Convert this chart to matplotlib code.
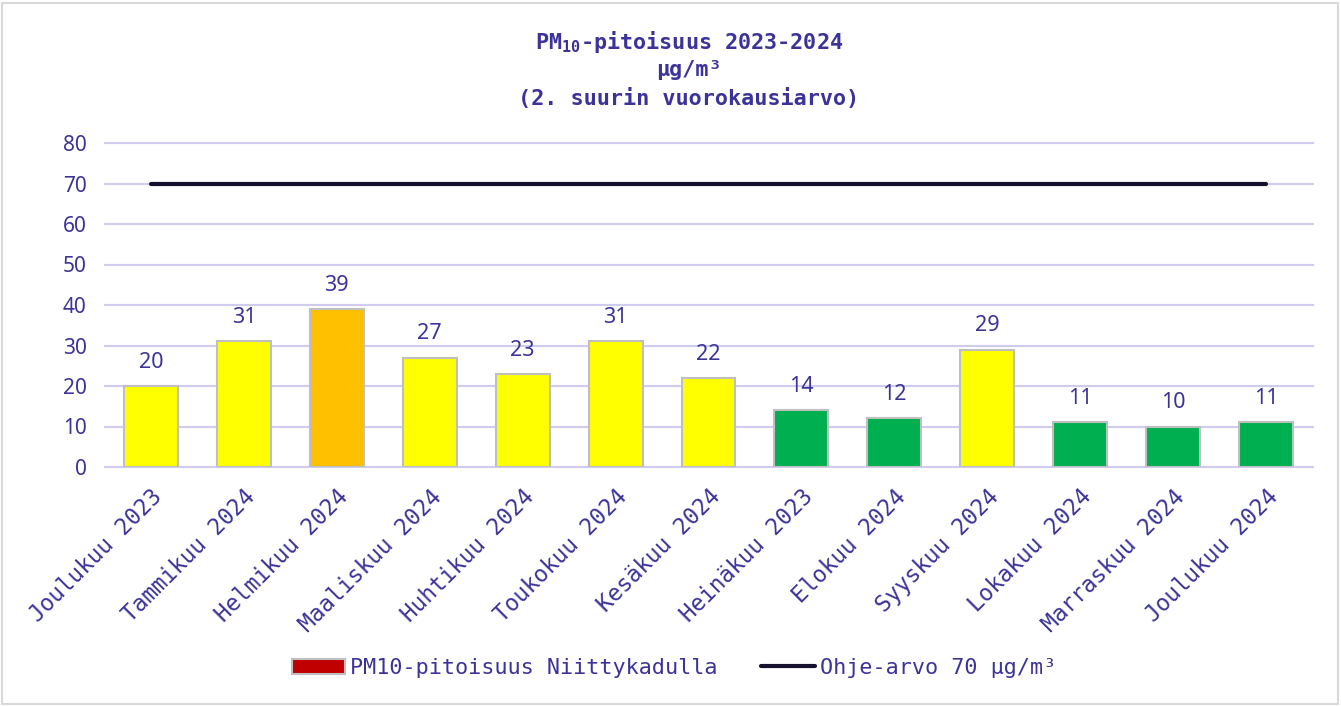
import matplotlib
matplotlib.use("Agg")
import matplotlib.pyplot as plt
from matplotlib.patches import Patch, Rectangle
from matplotlib.lines import Line2D

months = ["Joulukuu 2023", "Tammikuu 2024", "Helmikuu 2024", "Maaliskuu 2024",
          "Huhtikuu 2024", "Toukokuu 2024", "Kesäkuu 2024", "Heinäkuu 2023",
          "Elokuu 2024", "Syyskuu 2024", "Lokakuu 2024", "Marraskuu 2024",
          "Joulukuu 2024"]
values = [20, 31, 39, 27, 23, 31, 22, 14, 12, 29, 11, 10, 11]
bar_colors = ["#FFFF00", "#FFFF00", "#FFC000", "#FFFF00", "#FFFF00", "#FFFF00",
              "#FFFF00", "#00B050", "#00B050", "#FFFF00", "#00B050", "#00B050",
              "#00B050"]
limit_value = 70
y_ticks = [0, 10, 20, 30, 40, 50, 60, 70, 80]

TXT = "#3B3399"
MONO = "DejaVu Sans Mono"
SANS = "Noto Sans"

W, H = 1341, 706
fig = plt.figure(figsize=(W / 100, H / 100), dpi=100)
ax = fig.add_axes([104.5 / W, 1 - 467 / H, (1312.5 - 104.5) / W, (467 - 143) / H])

x = list(range(len(months)))
ax.bar(x, values, width=0.58, color=bar_colors, edgecolor="#BFBFBF", linewidth=1.5, zorder=3)
ax.plot([x[0], x[-1]], [limit_value, limit_value], color="#14102E", linewidth=3,
        solid_capstyle="round", zorder=4)

for xi, v in zip(x, values):
    ax.annotate(str(v), (xi, v), xytext=(0, 9.5), textcoords="offset points",
                ha="center", va="bottom", fontsize=15.5, color=TXT, family=SANS)

ax.set_xlim(-0.5, len(months) - 0.5)
ax.set_ylim(0, 80)
ax.set_yticks(y_ticks)
ax.set_yticklabels([str(t) for t in y_ticks], family=SANS, fontsize=15, color=TXT)
ax.set_xticks(x)
ax.set_xticklabels(months, rotation=45, ha="right", rotation_mode="anchor",
                   family=MONO, fontsize=16.3, color=TXT)
ax.tick_params(axis="both", length=0)
ax.tick_params(axis="y", pad=13)
ax.tick_params(axis="x", pad=13)
ax.yaxis.grid(True, color="#D0CCF0", linewidth=1.5, zorder=0)
for gl in ax.get_ygridlines():
    gl.set_clip_on(False)
ax.set_axisbelow(True)
for s in ax.spines.values():
    s.set_visible(False)

cx = 689 / W
fig.text(cx, 1 - 42 / H, r"PM$_{\mathregular{10}}$-pitoisuus 2023-2024", ha="center", va="center",
         family=MONO, fontsize=15.7, fontweight="bold", color=TXT)
fig.text(cx, 1 - 70 / H, "µg/m³", ha="center", va="center",
         family=MONO, fontsize=15.7, fontweight="bold", color=TXT)
fig.text(cx, 1 - 98 / H, "(2. suurin vuorokausiarvo)", ha="center", va="center",
         family=MONO, fontsize=15.7, fontweight="bold", color=TXT)

handles = [Patch(facecolor="#C00000", edgecolor="#BFBFBF", linewidth=1.5),
           Line2D([0], [0], color="#14102E", linewidth=3, solid_capstyle="round")]
labels = ["PM10-pitoisuus Niittykadulla", "Ohje-arvo 70 µg/m³"]
leg = fig.legend(handles, labels, loc="center", bbox_to_anchor=(674 / W, 1 - 668 / H),
                 ncol=2, frameon=False, handlelength=2.45, handletextpad=0.23,
                 columnspacing=2.0, prop={"family": MONO, "size": 15.7})
for t in leg.get_texts():
    t.set_color(TXT)

fig.patches.append(Rectangle((2 / W, 2 / H), 1 - 5 / W, 1 - 5 / H, transform=fig.transFigure,
                             fill=False, edgecolor="#D9D9D9", linewidth=1.5))

fig.savefig("out.png", dpi=100)
